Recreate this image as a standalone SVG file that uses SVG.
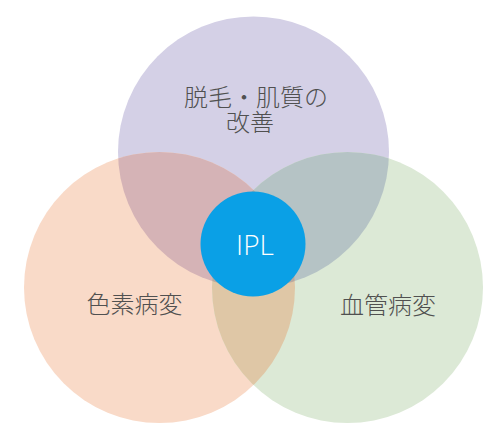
<svg xmlns="http://www.w3.org/2000/svg" width="504" height="448" viewBox="0 0 504 448">
<style>
.lbl{font-family:"Noto Sans CJK JP","Noto Sans CJK SC",sans-serif;font-size:24px;fill:#505050;text-anchor:middle;font-weight:300}
.ipl{font-family:"Open Sans","Liberation Sans",sans-serif;font-size:28px;fill:#ffffff;text-anchor:middle;font-weight:300}
</style>
<defs>
<clipPath id="cT"><circle cx="253.5" cy="152" r="135.5"/></clipPath>
<clipPath id="cL"><circle cx="159.5" cy="287.5" r="135.5"/></clipPath>
<clipPath id="cR"><circle cx="347.5" cy="287.5" r="135.5"/></clipPath>
</defs>
<rect width="504" height="448" fill="#ffffff"/>
<g id="top-circle"><circle cx="253.5" cy="152" r="135.5" fill="#d4d0e6"/></g>
<g id="left-circle"><circle cx="159.5" cy="287.5" r="135.5" fill="#f9dac8"/></g>
<g id="right-circle"><circle cx="347.5" cy="287.5" r="135.5" fill="#dce9d6"/></g>
<g id="overlaps">
<circle cx="159.5" cy="287.5" r="135.5" fill="#d5b3b6" clip-path="url(#cT)"/>
<circle cx="347.5" cy="287.5" r="135.5" fill="#b5c3c5" clip-path="url(#cT)"/>
<circle cx="347.5" cy="287.5" r="135.5" fill="#dfc7a6" clip-path="url(#cL)"/>
<g clip-path="url(#cT)"><circle cx="347.5" cy="287.5" r="135.5" fill="#b8a8a0" clip-path="url(#cL)"/></g>
</g>
<g id="ipl">
<circle cx="253" cy="244" r="52.5" fill="#0aa0e6"/>
<text class="ipl" x="255" y="255">IPL</text>
</g>
<g id="labels">
<text class="lbl" x="256" y="106">脱毛・肌質の</text>
<text class="lbl" x="250" y="131">改善</text>
<text class="lbl" x="134.5" y="313">色素病変</text>
<text class="lbl" x="388" y="314">血管病変</text>
</g>
</svg>
